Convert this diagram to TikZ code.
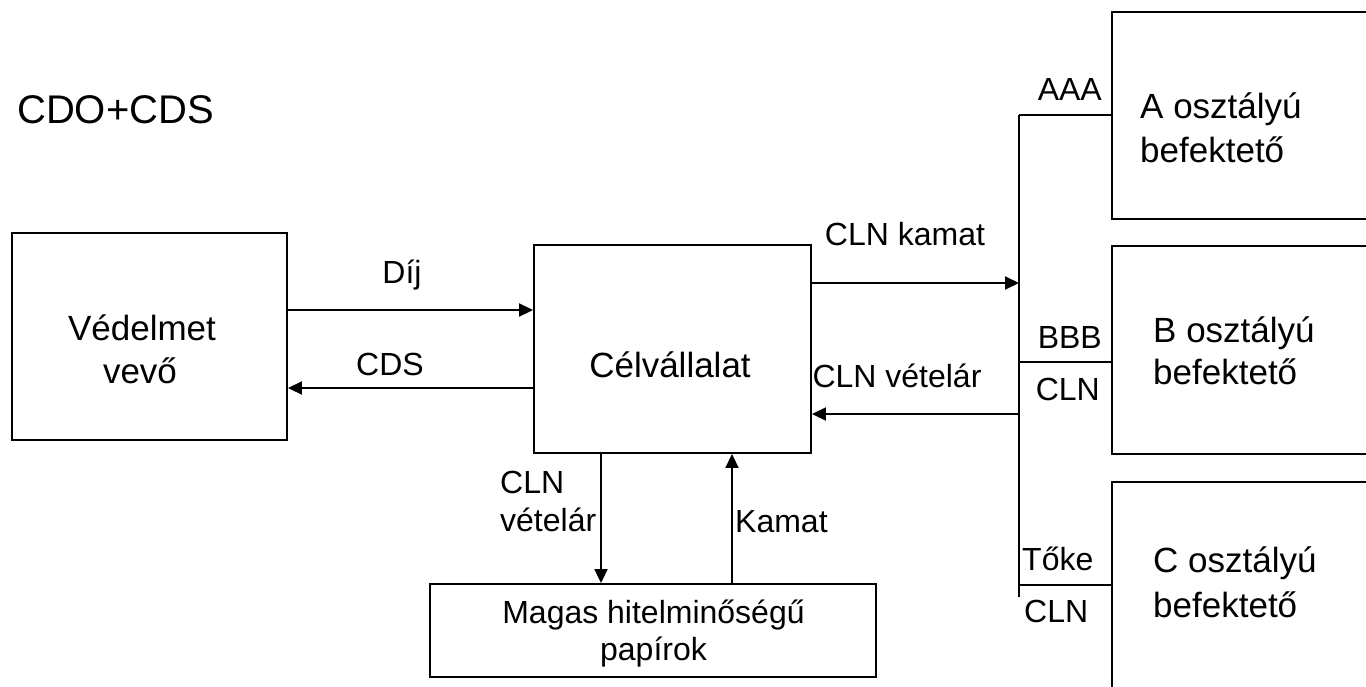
\documentclass[tikz,border=0pt]{standalone}
\usepackage{fontspec}
\setmainfont{Liberation Sans}
\usetikzlibrary{arrows.meta}
\tikzset{
  box/.style={draw=black, line width=1.9pt, rectangle, inner sep=0pt, fill=white},
  wire/.style={draw=black, line width=1.9pt},
  arr/.style={wire, -{Triangle[length=14pt,width=13pt]}},
  lbl/.style={inner sep=0pt, font=\fontsize{32}{38}\selectfont},
  btxt/.style={inner sep=0pt, align=left, font=\fontsize{35}{43}\selectfont},
  ctxt/.style={inner sep=0pt, align=center, font=\fontsize{35}{43}\selectfont},
}
\begin{document}
\begin{tikzpicture}[x=1pt,y=-1pt]
\clip (0,0) rectangle (1366,686);
\fill[white] (0,0) rectangle (1366,686);

% title
\node[inner sep=0pt, anchor=base west, font=\fontsize{40}{48}\selectfont] (title) at (17,123) {CDO+CDS};

% boxes
\node[box, minimum width=275pt, minimum height=207pt] (vv) at (149.5,336.5) {};
\node[box, minimum width=277pt, minimum height=208pt] (cel) at (672.5,349) {};
\node[box, minimum width=446pt, minimum height=93pt] (mag) at (653,630.5) {};
\node[box, minimum width=300pt, minimum height=207pt, anchor=north west] (A) at (1111,11) {};
\node[box, minimum width=300pt, minimum height=208pt, anchor=north west] (B) at (1111,245) {};
\node[box, minimum width=300pt, minimum height=260pt, anchor=north west] (C) at (1111,481) {};

% box texts
\node[ctxt, anchor=base] (vvt1) at (142,340) {Védelmet};
\node[ctxt, anchor=base] (vvt2) at (140,383) {vevő};
\node[ctxt, anchor=base] (celt) at (670,377) {Célvállalat};
\node[lbl, anchor=base] (magt1) at (653.5,623) {Magas hitelminőségű};
\node[lbl, anchor=base] (magt2) at (653.5,660) {papírok};
\node[btxt, anchor=base west] (At1) at (1140,118) {A osztályú};
\node[btxt, anchor=base west] (At2) at (1140,162) {befektető};
\node[btxt, anchor=base west] (Bt1) at (1153,342) {B osztályú};
\node[btxt, anchor=base west] (Bt2) at (1153,384) {befektető};
\node[btxt, anchor=base west] (Ct1) at (1153,572) {C osztályú};
\node[btxt, anchor=base west] (Ct2) at (1153,617) {befektető};

% bus
\coordinate (ta) at (1019,115);
\coordinate (tb) at (1019,362);
\coordinate (tc) at (1019,585);
\coordinate (bend) at (1019,597);
\draw[wire] (ta) -- (bend);
\draw[wire] (ta) -- (ta -| A.west);
\draw[wire] (tb) -- (tb -| B.west);
\draw[wire] (tc) -- (tc -| C.west);

% arrows
\draw[arr] (vv.east |- 0,310) -- (cel.west |- 0,310);
\draw[arr] (cel.west |- 0,388) -- (vv.east |- 0,388);
\draw[arr] (cel.east |- 0,283) -- (ta |- 0,283);
\draw[arr] (ta |- 0,414) -- (cel.east |- 0,414);
\draw[arr] (cel.south -| 601,0) -- (mag.north -| 601,0);
\draw[arr] (mag.north -| 732,0) -- (cel.south -| 732,0);

% labels
\node[lbl, anchor=base] (dij) at (402,283) {Díj};
\node[lbl, anchor=base] (cds) at (390,375) {CDS};
\node[lbl, anchor=base] (clnk) at (905,245) {CLN kamat};
\node[lbl, anchor=base] (clnv) at (897,387) {CLN vételár};
\node[lbl, anchor=base west] (clnd1) at (500,493) {CLN};
\node[lbl, anchor=base west] (clnd2) at (500,531) {vételár};
\node[lbl, anchor=base west] (kam) at (735,532) {Kamat};
\node[lbl, anchor=base east] (aaa) at (1102,100) {AAA};
\node[lbl, anchor=base east] (bbb) at (1102,348) {BBB};
\node[lbl, anchor=base east] (clnb) at (1100,400) {CLN};
\node[lbl, anchor=base west] (toke) at (1022,570) {Tőke};
\node[lbl, anchor=base west] (clnc) at (1024,622) {CLN};
\end{tikzpicture}
\end{document}
